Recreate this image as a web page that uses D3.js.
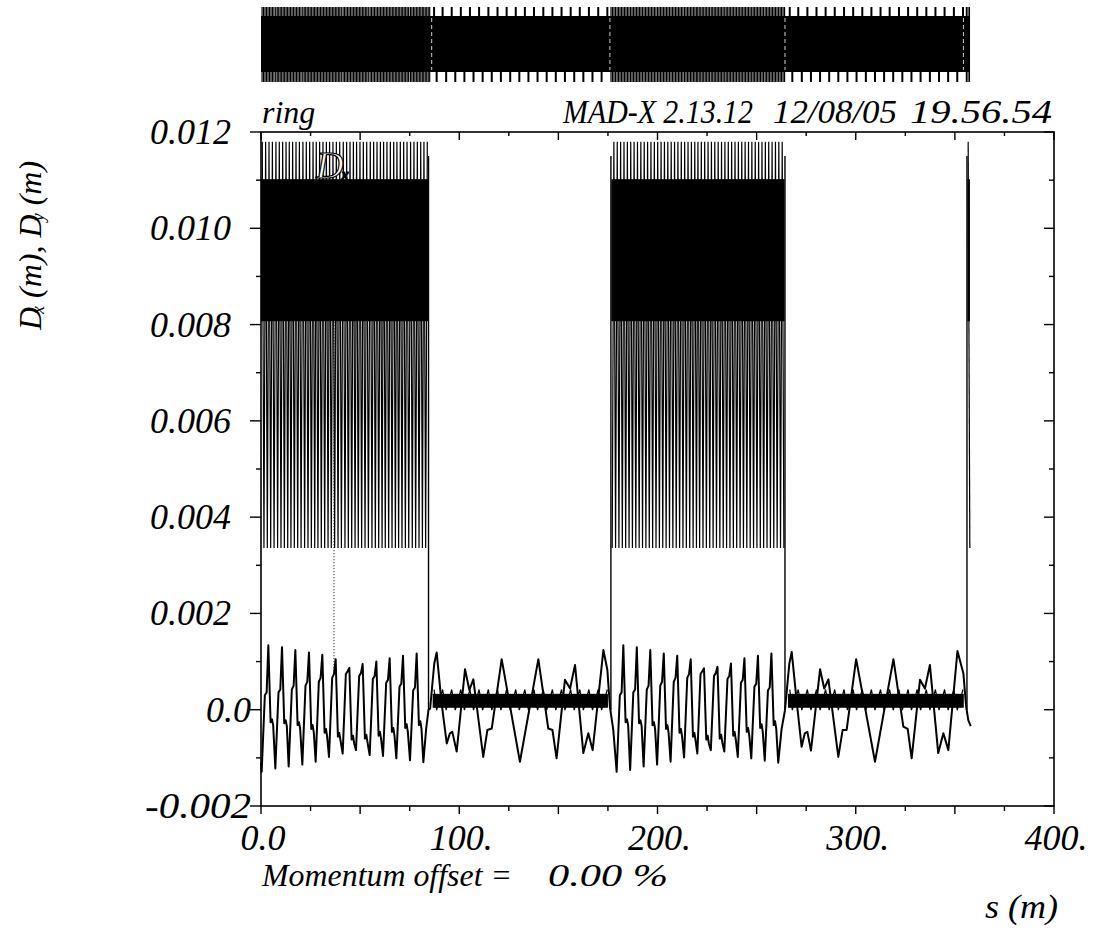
<!DOCTYPE html>
<html><head><meta charset="utf-8">
<script src="https://cdn.jsdelivr.net/npm/d3@7"></script>
<style>
body{margin:0;background:#fff}
svg{display:block}
text{font-family:"Liberation Serif","Times New Roman",serif;font-style:italic;fill:#000;white-space:pre}
</style>
</head><body>
<svg id="c" width="1100" height="931"></svg>
<script>
// ---------------- DATA ----------------
const titleLeft = "ring";
const titleRight = ["MAD-X 2.13.12", "12/08/05", "19.56.54"];
const xTickValues = [0, 100, 200, 300, 400];
const xTickLabels = ["0.0", "100.", "200.", "300.", "400."];
const yTickValues = [-0.002, 0, 0.002, 0.004, 0.006, 0.008, 0.010, 0.012];
const yTickLabels = ["-0.002", "0.0", "0.002", "0.004", "0.006", "0.008", "0.010", "0.012"];
const momentumText = ["Momentum offset =", "0.00 %"];
const xAxisTitle = "s (m)";

// Dx (m) along s (m): arc 1
const dxArc1 = [
 [0.00,-0.00110],
 [0.34,-0.00129],[1.94,0.00030],[2.84,0.00036],[3.70,0.00134],[4.84,-0.00026],[5.54,-0.00020],[6.14,-0.00032],
 [7.23,-0.00122],[8.83,0.00036],[9.73,0.00042],[10.59,0.00130],[11.73,-0.00028],[12.43,-0.00022],[13.03,-0.00034],
 [13.96,-0.00118],[15.56,0.00042],[16.46,0.00050],[17.32,0.00124],[18.46,-0.00032],[19.16,-0.00026],[19.76,-0.00040],
 [20.85,-0.00114],[22.45,0.00050],[23.35,0.00058],[24.21,0.00119],[25.35,-0.00040],[26.05,-0.00032],[26.65,-0.00048],
 [27.57,-0.00108],[29.17,0.00058],[30.07,0.00066],[30.93,0.00114],[32.07,-0.00048],[32.77,-0.00040],[33.37,-0.00056],
 [34.30,-0.00098],[35.90,0.00066],[36.80,0.00074],[37.66,0.00105],[38.80,-0.00056],[39.50,-0.00048],[40.10,-0.00064],
 [41.20,-0.00091],[42.80,0.00074],[43.70,0.00080],[44.56,0.00087],[45.70,-0.00062],[46.40,-0.00054],[47.00,-0.00070],
 [47.92,-0.00084],[49.52,0.00070],[50.42,0.00076],[51.28,0.00095],[52.42,-0.00060],[53.12,-0.00052],[53.72,-0.00068],
 [54.82,-0.00094],[56.42,0.00064],[57.32,0.00070],[58.18,0.00100],[59.32,-0.00054],[60.02,-0.00046],[60.62,-0.00062],
 [61.54,-0.00096],[63.14,0.00056],[64.04,0.00062],[64.90,0.00107],[66.04,-0.00046],[66.74,-0.00038],[67.34,-0.00054],
 [68.27,-0.00101],[69.87,0.00048],[70.77,0.00054],[71.63,0.00112],[72.77,-0.00038],[73.47,-0.00030],[74.07,-0.00046],
 [75.16,-0.00105],[76.76,0.00040],[77.66,0.00046],[78.52,0.00117],[79.66,-0.00032],[80.36,-0.00024],[80.96,-0.00040],
 [81.89,-0.00109],[83.30,-0.00040],[84.50,0.00000]
];
// Dx straight 1
const dxStraight1 = [
 [85.30,0.00002],[87.40,0.00096],[88.60,0.00119],[91.10,0.00013],[93.70,-0.00070],[95.30,-0.00049],[96.50,-0.00046],
 [98.70,-0.00087],[102.90,0.00084],[105.10,0.00041],[107.10,0.00063],[112.10,-0.00098],[114.20,-0.00042],[116.40,-0.00039],
 [121.40,0.00105],[130.60,-0.00108],[139.90,0.00105],[144.90,-0.00039],[147.00,-0.00042],[149.10,-0.00101],[153.30,0.00062],
 [155.90,0.00044],[158.40,0.00093],[162.60,-0.00090],[165.10,-0.00049],[167.30,-0.00084],[172.70,0.00124],[174.70,0.00083],
 [176.00,0.00006],[177.70,-0.00042]
];
// Dx arc 2
const dxArc2 = [
 [179.40,-0.00129],[181.00,0.00030],[181.90,0.00036],[182.76,0.00134],[183.90,-0.00026],[184.60,-0.00020],[185.20,-0.00032],
 [186.20,-0.00125],[187.80,0.00036],[188.70,0.00042],[189.56,0.00130],[190.70,-0.00028],[191.40,-0.00022],[192.00,-0.00034],
 [193.00,-0.00118],[194.60,0.00042],[195.50,0.00050],[196.36,0.00124],[197.50,-0.00032],[198.20,-0.00026],[198.80,-0.00040],
 [199.80,-0.00114],[201.40,0.00050],[202.30,0.00058],[203.16,0.00117],[204.30,-0.00040],[205.00,-0.00032],[205.60,-0.00048],
 [206.60,-0.00108],[208.20,0.00058],[209.10,0.00066],[209.96,0.00112],[211.10,-0.00048],[211.80,-0.00040],[212.40,-0.00056],
 [213.40,-0.00099],[215.00,0.00066],[215.90,0.00074],[216.76,0.00105],[217.90,-0.00056],[218.60,-0.00048],[219.20,-0.00064],
 [220.10,-0.00091],[221.70,0.00074],[222.60,0.00080],[223.46,0.00086],[224.60,-0.00062],[225.30,-0.00054],[225.90,-0.00070],
 [226.90,-0.00084],[228.50,0.00070],[229.40,0.00076],[230.26,0.00089],[231.40,-0.00060],[232.10,-0.00052],[232.70,-0.00068],
 [233.70,-0.00087],[235.30,0.00064],[236.20,0.00070],[237.06,0.00096],[238.20,-0.00054],[238.90,-0.00046],[239.50,-0.00062],
 [240.50,-0.00098],[242.10,0.00056],[243.00,0.00062],[243.86,0.00107],[245.00,-0.00046],[245.70,-0.00038],[246.30,-0.00054],
 [247.30,-0.00101],[248.90,0.00048],[249.80,0.00054],[250.66,0.00112],[251.80,-0.00038],[252.50,-0.00030],[253.10,-0.00046],
 [254.10,-0.00106],[255.70,0.00040],[256.60,0.00046],[257.46,0.00117],[258.60,-0.00032],[259.30,-0.00024],[259.90,-0.00040],
 [260.90,-0.00110],[262.60,-0.00040],[264.30,-0.00001]
];
// Dx straight 2
const dxStraight2 = [
 [266.50,0.00096],[267.70,0.00120],[270.30,0.00013],[272.70,-0.00077],[274.30,-0.00049],[275.60,-0.00046],[277.40,-0.00085],
 [282.00,0.00084],[284.10,0.00044],[286.20,0.00063],[291.20,-0.00098],[293.40,-0.00042],[295.40,-0.00042],[300.20,0.00105],
 [309.70,-0.00108],[319.00,0.00105],[324.00,-0.00035],[326.20,-0.00040],[328.20,-0.00101],[332.40,0.00062],[334.90,0.00044],
 [337.40,0.00093],[341.60,-0.00090],[344.20,-0.00049],[346.70,-0.00084],[351.30,0.00122],[354.30,0.00075],[355.70,0.00006],
 [356.80,-0.00022],[358.00,-0.00034]
];

// Dy (m): arcs oscillate densely, straights stay near zero
const dyJumpS = [84.5, 176.5, 264.3, 356.1];
const dyJumpLevels = [0.0, 0.0115];
const dyArcRanges = [[0, 84.3], [176.7, 264.1], [356.3, 357.6]];
const dyArcBand = [0.00807, 0.01102];
const dyArcSpikeTop = 0.0118;
const dyArcSpikeBottom = 0.00336;
const dyArcCellStarts = [-6.46, 0.34, 7.23, 13.96, 20.85, 27.57, 34.30, 41.20, 47.92, 54.82, 61.54, 68.27, 75.16, 81.89,
  172.6, 179.4, 186.2, 193.0, 199.8, 206.6, 213.4, 220.1, 226.9, 233.7, 240.5, 247.3, 254.1, 260.9, 349.6, 356.4];
const dyCellTopOffsets = [0.3, 2.0, 3.7, 5.4];
const dyCellBottomOffsets = [1.15, 2.85, 4.55, 6.25];
const dyStraightRanges = [[86.6, 175.0], [265.8, 354.5]];
const dyStraightBand = [0.00004, 0.00033];
const dyStraightFringe = [-0.00001, 0.00042];
const dyMarkerS = 36.8;
const dyMarkerRange = [0.0008, 0.0081];

// Lattice layout strip
const latticeRange = [0, 357.6];
const latticeArcRanges = [[0, 85.5], [176.2, 264.6], [355.6, 357.6]];
const latticeArcFringeOffsets = [0.2, 0.95, 1.7, 2.45, 3.2, 3.95, 4.7, 5.45, 6.2];
const latticeTopTicks = [87.3, 91.6, 96.2, 100.8, 105.4, 110.0, 114.7, 119.3, 123.9, 128.5, 133.1, 137.7, 142.4, 147.0, 151.6,
  156.2, 160.8, 165.4, 170.1, 174.7, 266.7, 271.0, 275.6, 280.2, 284.8, 289.4, 294.1, 298.7, 303.3, 307.9, 312.5, 317.1,
  321.8, 326.4, 331.0, 335.6, 340.2, 344.8, 349.5, 354.1];
const latticeBottomTicks = [88.6, 93.4, 98.0, 102.6, 107.2, 111.8, 116.4, 121.0, 125.7, 130.3, 134.9, 139.5, 144.1, 148.7,
  153.3, 158.0, 162.6, 167.2, 171.8, 268.0, 272.8, 277.4, 282.0, 286.6, 291.2, 295.8, 300.4, 305.1, 309.7, 314.3, 318.9,
  323.5, 328.1, 332.7, 337.4, 342.0, 346.6, 351.2];
const latticeDividers = [86.1, 176.0, 264.3, 354.3];

// ---------------- DRAW ----------------
const svg = d3.select("#c");
const x = d3.scaleLinear().domain([0, 400]).range([261, 1054]);
const y = d3.scaleLinear().domain([-0.002, 0.012]).range([806, 132]);
const FONT = 36;

// lattice strip
const strip = {top: 7, blockTop: 16, blockBottom: 72, bottom: 82};
const gL = svg.append("g");
gL.append("rect").attr("x", x(latticeRange[0])).attr("width", x(latticeRange[1]) - x(latticeRange[0]))
  .attr("y", strip.blockTop).attr("height", strip.blockBottom - strip.blockTop).attr("fill", "#000");
const arcFringe = [];
dyArcCellStarts.forEach(c => latticeArcFringeOffsets.forEach(o => {
  const s = c + o;
  if (latticeArcRanges.some(r => s >= r[0] && s <= r[1])) arcFringe.push(s);
}));
gL.selectAll("line.af").data(arcFringe).join("line")
  .attr("x1", d => x(d)).attr("x2", d => x(d)).attr("y1", strip.top).attr("y2", strip.bottom)
  .attr("stroke", "#000").attr("stroke-width", 1.2);
gL.selectAll("rect.tt").data(latticeTopTicks).join("rect")
  .attr("x", d => x(d) - 1).attr("width", 2).attr("y", strip.top).attr("height", strip.blockTop - strip.top + 1).attr("fill", "#000");
gL.selectAll("rect.bt").data(latticeBottomTicks).join("rect")
  .attr("x", d => x(d) - 1).attr("width", 2).attr("y", strip.blockBottom - 1).attr("height", strip.bottom - strip.blockBottom + 1).attr("fill", "#000");
gL.selectAll("line.dv").data(latticeDividers).join("line")
  .attr("x1", d => x(d)).attr("x2", d => x(d)).attr("y1", strip.blockTop + 2).attr("y2", strip.blockBottom - 2)
  .attr("stroke", "#fff").attr("stroke-width", 1).attr("stroke-dasharray", "4,3").attr("opacity", 0.8);

// frame
const gA = svg.append("g");
gA.append("rect").attr("x", x(0)).attr("y", y(0.012)).attr("width", x(400) - x(0)).attr("height", y(-0.002) - y(0.012))
  .attr("fill", "none").attr("stroke", "#000").attr("stroke-width", 1.6);

// x ticks every 25 m
const xt = d3.range(0, 401, 25);
gA.selectAll("line.xb").data(xt).join("line")
  .attr("x1", d => x(d)).attr("x2", d => x(d)).attr("y1", y(-0.002)).attr("y2", d => y(-0.002) + (d % 50 === 0 ? 8 : 5))
  .attr("stroke", "#000").attr("stroke-width", 1.4);
gA.selectAll("line.xt").data(xt).join("line")
  .attr("x1", d => x(d)).attr("x2", d => x(d)).attr("y1", y(0.012)).attr("y2", d => y(0.012) + (d % 50 === 0 ? 8 : 4))
  .attr("stroke", "#000").attr("stroke-width", 1.4);
// y ticks every 0.001
const yt = d3.range(-2, 13).map(k => k / 1000);
gA.selectAll("line.yl").data(yt).join("line")
  .attr("x1", x(0)).attr("x2", (d, i) => x(0) - (i % 2 === 0 ? 11 : 5)).attr("y1", d => y(d)).attr("y2", d => y(d))
  .attr("stroke", "#000").attr("stroke-width", 1.4);
gA.selectAll("line.yr").data(yt).join("line")
  .attr("x1", x(400)).attr("x2", (d, i) => x(400) - (i % 2 === 0 ? 10 : 5)).attr("y1", d => y(d)).attr("y2", d => y(d))
  .attr("stroke", "#000").attr("stroke-width", 1.4);

// tick labels
gA.selectAll("text.xl").data(xTickValues).join("text")
  .attr("x", d => x(d) + 2).attr("y", 850).attr("text-anchor", "middle").attr("font-size", FONT)
  .text((d, i) => xTickLabels[i]);
const yLabelRight = v => (v <= 0) ? 251 : 231;
gA.selectAll("text.yl").data(yTickValues).join("text")
  .attr("x", d => yLabelRight(d)).attr("y", d => y(d) + 12).attr("text-anchor", "end").attr("font-size", FONT)
  .each(function(d) { if (d < 0) d3.select(this).attr("textLength", 106).attr("lengthAdjust", "spacingAndGlyphs"); })
  .text((d, i) => yTickLabels[i]);

// titles
svg.append("text").attr("x", 262).attr("y", 123).attr("font-size", 32).text(titleLeft);
const titleBoxes = [[563, 190], [773, 124], [910, 142]];
titleRight.forEach((t, i) => svg.append("text").attr("x", titleBoxes[i][0]).attr("y", 123).attr("font-size", 33)
  .attr("textLength", titleBoxes[i][1]).attr("lengthAdjust", "spacingAndGlyphs").text(t));
const momBoxes = [[262, 250], [548, 120]];
momentumText.forEach((t, i) => svg.append("text").attr("x", momBoxes[i][0]).attr("y", 886).attr("font-size", 32)
  .attr("textLength", momBoxes[i][1]).attr("lengthAdjust", "spacingAndGlyphs").text(t));
svg.append("text").attr("x", 985).attr("y", 918).attr("font-size", 33)
  .attr("textLength", 73).attr("lengthAdjust", "spacingAndGlyphs").text(xAxisTitle);

// y axis title (rotated)
const yt2 = svg.append("text").attr("transform", "translate(41,330) rotate(-90)").attr("font-size", 32);
yt2.append("tspan").text("D");
yt2.append("tspan").attr("font-size", 18).attr("dx", -7).attr("dy", 3).text("x");
yt2.append("tspan").attr("dy", -3).text(" (m), D");
yt2.append("tspan").attr("font-size", 18).attr("dx", -7).attr("dy", 3).text("y");
yt2.append("tspan").attr("dy", -3).text(" (m)");

// ---------------- CURVES ----------------
const gC = svg.append("g");
const line = d3.line().x(d => x(d[0])).y(d => y(d[1]));

// Dy arcs: dense band + zig-zag spikes
dyArcRanges.forEach(r => {
  gC.append("rect").attr("x", x(r[0])).attr("width", x(r[1]) - x(r[0]))
    .attr("y", y(dyArcBand[1])).attr("height", y(dyArcBand[0]) - y(dyArcBand[1])).attr("fill", "#000");
  const pts = [];
  dyArcCellStarts.forEach(c => {
    dyCellTopOffsets.forEach(o => { const s = c + o; if (s >= r[0] && s <= r[1]) pts.push([s, dyArcSpikeTop]); });
    dyCellBottomOffsets.forEach(o => { const s = c + o; if (s >= r[0] && s <= r[1]) pts.push([s, dyArcSpikeBottom]); });
  });
  pts.sort((a, b) => a[0] - b[0]);
  gC.append("path").attr("d", line(pts)).attr("fill", "none").attr("stroke", "#000").attr("stroke-width", 1.2);
});
// Dy straights: dense band with small fringe
dyStraightRanges.forEach(r => {
  gC.append("rect").attr("x", x(r[0])).attr("width", x(r[1]) - x(r[0]))
    .attr("y", y(dyStraightBand[1])).attr("height", y(dyStraightBand[0]) - y(dyStraightBand[1])).attr("fill", "#000");
  const pts = [];
  latticeTopTicks.filter(s => s >= r[0] && s <= r[1]).forEach(s => pts.push([s, dyStraightFringe[1]]));
  latticeBottomTicks.filter(s => s >= r[0] && s <= r[1]).forEach(s => pts.push([s, dyStraightFringe[0]]));
  pts.sort((a, b) => a[0] - b[0]);
  gC.append("path").attr("d", line(pts)).attr("fill", "none").attr("stroke", "#000").attr("stroke-width", 1.2);
});
// Dy jumps
gC.selectAll("line.jump").data(dyJumpS).join("line")
  .attr("x1", d => x(d)).attr("x2", d => x(d)).attr("y1", y(dyJumpLevels[0])).attr("y2", y(dyJumpLevels[1]))
  .attr("stroke", "#000").attr("stroke-width", 1.4);
// dotted marker
gC.append("line").attr("x1", x(dyMarkerS)).attr("x2", x(dyMarkerS)).attr("y1", y(dyMarkerRange[0])).attr("y2", y(dyMarkerRange[1]))
  .attr("stroke", "#000").attr("stroke-width", 1).attr("stroke-dasharray", "1,2");

// Dx
const dxAll = dxArc1.concat(dxStraight1, dxArc2, dxStraight2);
gC.append("path").attr("d", line(dxAll)).attr("fill", "none").attr("stroke", "#000").attr("stroke-width", 2).attr("stroke-linejoin", "round");

// legend label
const lg = svg.append("text").attr("x", 316).attr("y", 178).attr("font-size", 38)
  .attr("stroke", "#000").attr("stroke-width", 1.2).style("fill", "#fff");
lg.append("tspan").text("D");
lg.append("tspan").attr("font-size", 16).attr("dx", -2).attr("dy", 2).text("x");
</script>
</body></html>
